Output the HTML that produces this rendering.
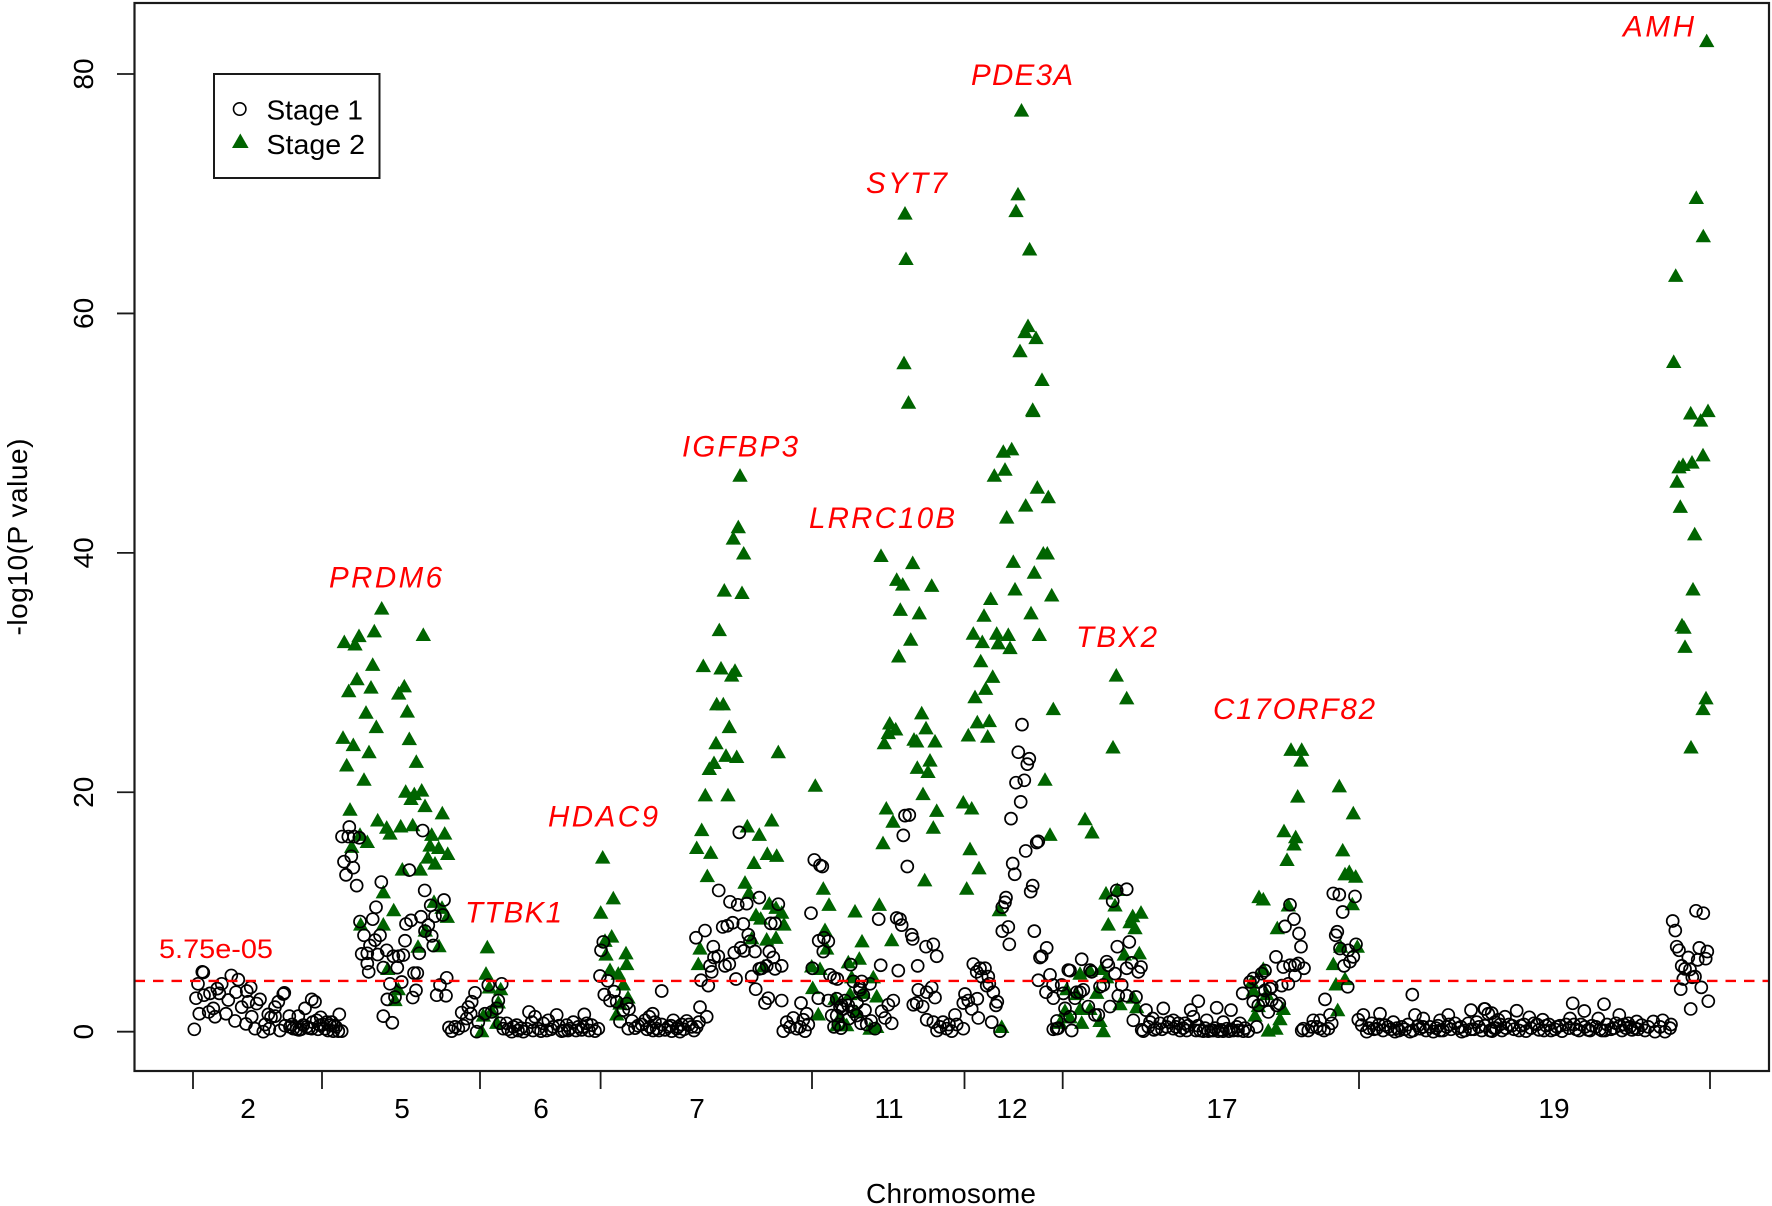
<!DOCTYPE html>
<html lang="en">
<head>
<meta charset="utf-8">
<title>Manhattan plot</title>
<style>
html,body{margin:0;padding:0;background:#fff;width:1772px;height:1206px;overflow:hidden}
svg{display:block;font-family:"Liberation Sans",Arial,sans-serif}
.gene{fill:#ff0000;font-style:italic;font-size:29.5px}
.tick{fill:#000;font-size:28px}
</style>
</head>
<body>
<svg id="chart" xmlns="http://www.w3.org/2000/svg" width="1772" height="1206" viewBox="0 0 1772 1206">
  <rect x="0" y="0" width="1772" height="1206" fill="#fff"/>
  <g id="stage2"></g>
  <g id="stage1"></g>
  <line id="thr" stroke="#ff0000" stroke-width="2.4" stroke-dasharray="10.5 8"/>
  <rect x="134.5" y="3" width="1634.5" height="1068" fill="none" stroke="#1a1a1a" stroke-width="2.2"/>
  <g id="axes"></g>
  <text x="159" y="958" font-size="27" fill="#ff0000" textLength="114" lengthAdjust="spacingAndGlyphs">5.75e-05</text>
  <text class="gene" x="329" y="587.5" textLength="113">PRDM6</text>
  <text class="gene" x="465" y="922.5" textLength="97">TTBK1</text>
  <text class="gene" x="548" y="826.5" textLength="110">HDAC9</text>
  <text class="gene" x="682" y="456.5" textLength="116">IGFBP3</text>
  <text class="gene" x="809" y="528" textLength="146">LRRC10B</text>
  <text class="gene" x="1076" y="647" textLength="81">TBX2</text>
  <text class="gene" x="1213" y="719" textLength="162">C17ORF82</text>
  <text class="gene" x="866" y="193" textLength="81">SYT7</text>
  <text class="gene" x="971" y="85" textLength="102">PDE3A</text>
  <text class="gene" x="1623" y="36.5" textLength="71">AMH</text>
  <text class="tick" x="951" y="1203" text-anchor="middle" textLength="170">Chromosome</text>
  <text class="tick" transform="translate(27,537) rotate(-90)" text-anchor="middle" textLength="197">-log10(P value)</text>
  <g>
    <rect x="214" y="74" width="165.5" height="104" fill="#fff" stroke="#1a1a1a" stroke-width="2"/>
    <circle cx="239.7" cy="109" r="6.2" fill="none" stroke="#000" stroke-width="1.6"/>
    <polygon points="240.3,133.5 248.6,148 232,148" fill="#006400"/>
    <text class="tick" x="266.5" y="119.5" textLength="96.5" lengthAdjust="spacingAndGlyphs">Stage 1</text>
    <text class="tick" x="266.5" y="154" textLength="98.5" lengthAdjust="spacingAndGlyphs">Stage 2</text>
  </g>
</svg>
<script>
// Tick labels and axis values
const yTicks = [0, 20, 40, 60, 80];
const chromBoundaries = [0, 129, 287, 407.6, 619, 771.5, 869.7, 1166, 1517];
const chromLabels = ["2", "5", "6", "7", "11", "12", "17", "19"];
const chromLabelPos = [55, 209, 348, 504, 696, 819, 1029, 1361];
const thresholdLogP = 4.24;

// Stage 1: [cumulative position, -log10 P]
const stage1Chr2 = [[1.3,.2],[9.3,5],[10.3,4.95],[5,4],[3,2.8],[6.3,1.5],[11,3.05],[17,3.2],[15.7,1.65],[22,1.25],[20.3,1.95],[24.3,3.6],[28.7,4],[26.3,3.2],[35.3,2.65],[38.3,4.7],[45.3,4.35],[43,3.3],[33,1.5],[42,.9],[48.7,2.05],[57.7,3.7],[53.7,3.4],[67,2.7],[63.7,2.35],[53,.65],[62,.25],[70.3,0],[76.3,.25],[58.7,1.25],[55.3,2.5],[75.3,1.45],[82,1.3],[85.3,2.5],[82,2.05],[91.3,3.25],[90.3,3.15],[87,.1],[96.3,1.3],[100.3,.25],[105.3,1.3],[110.3,.55],[112,1.95],[118.7,2.7],[122,2.5],[119.7,.8],[127.7,1.2],[135,.1],[146.3,1.45],[97,.4],[103.7,.2],[113.7,.4],[118.7,.25],[127,.55],[132,.25],[137,.55],[140.3,.05],[145.3,.05],[148.7,.05],[138.7,.8],[133.7,.8],[123.7,.95],[78,1.2],[72,.6],[92,.5],[108,.2],[143,.4],[99,.6],[106,.15],[116,.3],[125,.2],[130,.6],[141,.5]];
const stage1Chr5 = [[156.3,17.1],[149,16.3],[155.3,16.3],[161,16.3],[166.3,16.2],[158.3,14.65],[151,14.2],[160.3,13.7],[153,13.1],[163.7,12.2],[229.7,16.8],[216.3,13.5],[188.3,12.5],[231.7,11.8],[251,11],[183,10.4],[237.7,10.55],[242,9.65],[249.7,9.75],[228,9.6],[179.7,9.4],[167,9.2],[218,9.3],[213,9],[235.3,8.9],[232,8.4],[171,8.05],[187,8.05],[182,7.65],[238.7,8],[212,7.6],[177,7.2],[240.3,7.2],[193.7,6.8],[168.7,6.5],[174.3,6.55],[184.7,6.45],[200.3,6.3],[205.7,6.3],[210.3,6.4],[226.3,6.55],[174.3,5.7],[190.3,5.35],[204.3,5.35],[175.7,5],[221,4.9],[224.3,4.9],[253.7,4.5],[197,4],[208.7,4.15],[247,3.9],[223,3.45],[243.7,3.05],[253,3],[194.3,2.7],[202,2.9],[219.7,2.85],[190.3,1.3],[199.3,.75]];
const stage1Chr6 = [[256,.35],[258.7,.05],[262,.4],[265.3,.25],[268.7,1.6],[270.3,.5],[273.7,1.1],[277.7,1.5],[275.3,2.05],[278.7,2.5],[282,3.25],[283.7,0],[285.3,.8],[295.3,3.9],[308.7,4],[292,1.5],[298.7,1.65],[303.7,1.95],[305.3,2.6],[307,.7],[313.7,.7],[318.7,0],[323.7,.55],[330.3,0],[336,1.65],[338.7,.8],[342,1.25],[345.3,.25],[350.3,.7],[355.3,.95],[363.7,1.4],[360.3,.4],[368.7,.05],[373.7,.55],[380.3,.8],[385.3,.4],[391.3,1.45],[393.7,.7],[398.7,.55],[405.3,.25],[402,.05],[310.3,.25],[320.3,.4],[333.7,.25],[353.7,.1],[377,.25],[388.7,.15],[328,.3],[348,.05],[366,.5],[371,.1],[383,.1],[396,.1],[315,.2],[325,.1],[340,.1],[358,.2],[375,.1],[390,.4]];
const stage1Chr7 = [[410.3,7.5],[408,6.8],[407,4.65],[414.7,4.25],[411.3,3.1],[421,3.35],[417,2.6],[423.7,2.5],[430.3,1.8],[427,.85],[435.3,.25],[433.7,2.35],[436,1.9],[439,.9],[442,.3],[445,.5],[546.3,16.65],[525.7,11.8],[566.3,11.2],[537,10.85],[544.7,10.6],[553.7,10.7],[585.3,10.65],[512,8.45],[503,7.85],[529.7,8.75],[534.3,8.85],[539.7,9.1],[550.3,9],[577.7,9.05],[582,9.05],[555.3,8.1],[557,7.55],[520.3,7.1],[525.3,6.3],[521,6.2],[547.7,7],[541.3,6.6],[551,6.75],[562,6.7],[576.3,6.7],[580.3,6.2],[536.3,5.65],[532,5.5],[517,5.5],[518.7,5],[568.7,5.3],[573.7,5.5],[566.3,5.25],[582,5.25],[588.7,5.5],[508,4.3],[515.3,3.85],[543,4.4],[558.7,4.6],[562.7,3.55],[575.3,2.8],[572,2.4],[588.7,2.6],[507,2.05],[513.7,1.25],[468.7,3.4],[459.7,1.5],[456.3,1.25],[452,.95],[448.7,.6],[457,.4],[463.7,.25],[468.7,.6],[475.3,.4],[480.3,.95],[483.7,.25],[488.7,.6],[493.7,.9],[498.7,.4],[503.7,.4],[487,0],[478.7,.05],[462,.8],[590.3,.05],[593.7,.8],[600.3,1.15],[603.7,.25],[610.3,1],[612,.05],[615.3,.6],[613.7,1.5],[597,.4],[607,.4],[608,2.4],[454,.2],[460,.1],[466,.1],[472,.15],[478,.5],[485,.4],[491,.2],[496,.6],[501,.1],[506,.8]];
const stage1Chr11 = [[621.3,14.35],[627,13.9],[629.3,13.8],[618,9.9],[625.7,7.6],[631,7.85],[635.3,7.55],[630.3,6.7],[619.3,5.3],[637,4.75],[641,4.5],[644.3,4.4],[657.7,5.6],[687.7,5.55],[705.3,5.1],[724.7,5.5],[685.7,9.4],[703.7,9.5],[707,9.4],[708.7,8.9],[718.7,8.1],[719.7,7.75],[733,7.1],[740.3,7.3],[743.7,6.3],[712,18.05],[716.3,18.1],[710.3,16.4],[714.3,13.8],[667,3.7],[668.7,4.2],[625.3,2.8],[635.3,2.6],[643.7,1.35],[647,2.05],[652,2.6],[655.3,2.2],[660.3,1.7],[645.3,.6],[667,3.5],[670.3,3.05],[660.3,4.2],[677,4],[673.7,.6],[682,.25],[688.7,1.7],[695.3,2.25],[700.3,2.6],[692,1.15],[698.7,.7],[648.7,2.2],[663.7,1.35],[638.7,1.35],[643.7,2.75],[725.3,3.5],[723.7,2.4],[733.7,3.3],[738.7,3.7],[742,2.85],[720.3,2.25],[729.7,2.1],[733.7,1],[740.3,.8],[747,.4],[753.7,.25],[758.7,.05],[763.7,.6],[770.3,.25],[762,1.4],[650,1.9],[656,1.1],[664,2.4],[672,1.8],[678,.9],[641,.4],[648,.3],[668,.7],[750,.8],[756,.6],[744,.1]];
const stage1Chr12 = [[772,3.15],[770.3,2.4],[775.3,2.6],[778.7,1.9],[784.3,2.75],[785.3,1.15],[798.7,.8],[807,.05],[803,2.2],[804.3,2.5],[800.3,3.3],[796.3,4],[792,5.3],[787,5.3],[780.3,5.65],[783.7,5],[788.7,4.6],[795.3,4.6],[793.7,3.85],[829,25.65],[825.3,23.35],[836.3,22.8],[834.3,22.35],[823,20.8],[831.3,21],[827.7,19.2],[818,17.8],[843.7,15.8],[845.3,15.9],[832.7,15.1],[819.7,14.05],[821.7,13.15],[839.7,12.2],[837.7,11.7],[813,11.2],[812,10.8],[809.3,10.4],[815.3,8.75],[809.3,8.4],[841.3,8.4],[816.3,7.3],[853.7,7],[848.7,6.3],[847,6.2],[857,4.75],[845.3,4.3],[853,3.3],[860.3,2.8],[863.7,.25],[860,3.9],[864,.9],[860.3,.2]];
const stage1Chr17 = [[877,5.1],[888.7,6.05],[898.7,5],[875.3,5.15],[868.7,3.9],[872,1.95],[865.3,.3],[878.7,.1],[877,1.25],[882,2.8],[887,3.3],[897,5.15],[895.3,2.1],[902,1.4],[905.3,1.4],[910.3,3.9],[913.7,5.85],[915.3,5.55],[922,4.85],[924.3,7.1],[936.3,7.5],[938.7,5.75],[933.7,5.3],[948,5.4],[945.3,5],[923.7,11.8],[933.7,11.9],[919.7,10.9],[928.7,3.9],[925.3,3],[933.7,3],[917,2.1],[943,2.9],[940.3,.95],[953,1.8],[948.7,.15],[883.7,3.3],[890.3,3.5],[870.3,3.2],[907,3.75],[970.3,1.95],[959.7,1.1],[963.7,.25],[973.7,.4],[980.3,.95],[987,.1],[992,.7],[997.7,1.8],[1005.3,2.55],[1000.3,1.25],[1007,.1],[1013.7,.95],[1023.7,2],[1020.3,.1],[1030.3,.8],[1038,1.8],[1040.3,.1],[1047,.7],[1055.3,.05],[1010.3,.05],[1015.3,.05],[1025.3,.05],[1033.7,.25],[950.3,.05],[955.3,.4],[980.3,.25],[967,.7],[993.7,.1],[985.3,.7],[1043.7,.4],[1050.3,.05],[1018,.1],[1028,.15],[1036,.05],[957,.8],[961,.15],[969,.2],[976,.8],[983,.4],[990,.3],[995,.5],[1003,.1],[1005,.5],[1012,.3],[1022,.3],[1030,.05],[1038,.2],[1045,.1],[1052,.3],[1072,5.1],[1068.7,4.85],[1060.3,4.45],[1057,4.15],[1049.7,3.2],[1065.3,4.15],[1078.7,3.75],[1083,6.25],[1092,8.8],[1101,9.4],[1097,10.6],[1106,8.2],[1108,7.1],[1090.3,5.4],[1097,5.55],[1102,5.55],[1105.3,5.7],[1111,5.3],[1102,4.7],[1095.3,4],[1088.7,3.85],[1072,3.45],[1077,3.6],[1060.3,2.5],[1070.3,2.65],[1078.7,2.65],[1086.3,2.35],[1065.3,2.2],[1075.3,1.65],[1083.7,2.2],[1063.7,.4],[1132,2.7],[1154.7,3.75],[1140.3,11.55],[1146.3,11.45],[1162,11.3],[1149.7,10],[1144.3,8.35],[1142.7,8.05],[1163,7.3],[1147,6.95],[1155.3,6.8],[1160.3,6.25],[1157,5.85],[1151,5.5],[1137,1.4],[1127,.95],[1120.3,.95],[1110.3,.25],[1115.3,.1],[1123.7,.4],[1131,.1],[1138.7,.7],[1108.7,.1],[1118.7,.4],[1135.3,.25],[1127,.25]];
const stage1Chr19 = [[1219.3,3.1],[1165.3,1],[1170.3,1.4],[1168.7,.55],[1173.7,0],[1178.7,.7],[1187,1.5],[1183.7,.25],[1192,.55],[1200.3,.8],[1202,0],[1208.7,.4],[1217,0],[1222,1.4],[1230.3,1.1],[1227,.25],[1240.3,0],[1247,.95],[1255.3,1.4],[1253.7,.4],[1262,.7],[1268.7,0],[1278,1.8],[1275.3,.7],[1283.7,.8],[1291.3,1.9],[1295.3,1.5],[1288.7,.1],[1302,.8],[1176,.3],[1181,.2],[1190,.1],[1195,.4],[1198,.2],[1206,.1],[1212,.2],[1220,.1],[1225,.5],[1233,.1],[1237,.4],[1243,.3],[1250,.1],[1258,.2],[1265,.3],[1272,.1],[1281,.2],[1286,.4],[1299,.05],[1411,2.3],[1379.7,2.37],[1391.3,1.73],[1426.3,1.4],[1323.7,1.75],[1292,1.9],[1298.7,1.55],[1336.3,1.2],[1349.7,1],[1377,1.1],[1405.3,1.1],[1435.3,.7],[1443.7,.85],[1312,1.25],[1305.3,1],[1303,.3],[1309,.1],[1316,.6],[1321,.2],[1328,.5],[1333,.05],[1341,.7],[1346,.15],[1353,.5],[1358,.1],[1364,.4],[1369,.05],[1373,.6],[1383,.2],[1388,.6],[1395,.15],[1399,.5],[1409,.1],[1414,.6],[1418,.2],[1423,.7],[1429,.1],[1433,.3],[1439,.15],[1445,.2],[1503,10.1],[1510.3,9.9],[1479.7,9.25],[1482.3,8.45],[1483.7,7.1],[1486,6.8],[1506.3,7],[1514.3,6.7],[1512.7,6.1],[1504.7,6],[1495.3,6.2],[1488.7,5.5],[1492,5.25],[1497,5.2],[1502,4.6],[1499.3,4.55],[1490.3,4.4],[1487.7,3.55],[1508.3,3.7],[1515.3,2.55],[1497.7,1.9],[1478,.6],[1469.7,.95],[1460.3,.85],[1452,.1],[1462,0],[1472,0],[1477,.3],[1448.7,.55],[1467,.4],[1455.3,.4],[1186,.6],[1204,.3],[1215,.6],[1230,.4],[1245,.5],[1247,.1],[1256,.6],[1268,.4],[1278,.2],[1292,.5],[1297,.1],[1301,.3],[1307,.6],[1313,.3],[1319,.5],[1326,.1],[1331,.6],[1338,.3],[1344,.6],[1351,.1],[1356,.6],[1362,.2],[1367,.5],[1376,.3],[1381,.6],[1386,.1],[1392,.4],[1397,.1],[1403,.4],[1407,.2],[1412,.1],[1421,.3],[1427,.5],[1431,.6],[1437,.4],[1442,.3]];

// Stage 2: [cumulative position, -log10 P]
const stage2Chr5 = [[188.7,35.4],[151.3,32.6],[162,32.4],[166,33.1],[181.3,33.5],[230.3,33.2],[179.7,30.7],[164,29.5],[155.7,28.5],[178,28.8],[211.3,28.9],[205.7,28.3],[173,26.7],[214.3,26.8],[183.3,25.5],[150,24.6],[160.3,24],[216.3,24.5],[176,23.4],[153.7,22.3],[223.3,22.6],[171,21.1],[212.7,20.1],[228.7,20.2],[221.3,19.9],[218,19.5],[232,18.9],[157,18.6],[249.3,18.3],[184.7,17.7],[193.7,17.1],[197,16.6],[207.7,17.2],[219.7,17.3],[238.7,16.5],[251.7,16.6],[167,16.5],[174.3,15.9],[158.7,15.5],[237,15.6],[245.7,15.4],[254.7,14.9],[234.7,14.6],[242,14.1],[209.3,13.6],[227.3,13.6],[190.3,11.7],[241,10.9],[200.7,10.2],[249,10.4],[254.3,9.65],[190.3,9],[167.7,9],[232.3,8.5],[225,7.15],[246,7.2],[194.7,5.3],[205.3,3.6],[202,2.7]];
const stage2Chr6 = [[294.3,7.1],[293,4.9],[296.3,3.75],[307.7,3.6],[305.3,2.5],[298.7,1.8],[290.3,1.4],[303.7,.8],[288.7,.1]];
const stage2Chr7 = [[409.7,14.6],[420.3,11.2],[407.7,10],[418.7,8],[412,7.65],[413,6.5],[433,6.6],[417,5.2],[433.7,5.7],[425.3,4.9],[430.3,4],[427,2.4],[423.7,1.5],[435,2.9],[547,46.5],[545.3,42.2],[540.3,41.25],[550.7,40],[531.3,36.9],[549,36.7],[526.3,33.6],[510.3,30.6],[528,30.4],[542,30.2],[538.7,29.8],[523.7,27.4],[530.3,27.4],[536.3,25.5],[523,24.15],[533,23.1],[543.7,23],[521,22.5],[516.3,22],[585.3,23.4],[512.3,19.8],[535,19.8],[508.7,16.9],[554.3,17.2],[566.3,16.5],[578.7,17.7],[503.7,15.4],[517.7,15],[574.3,14.9],[583.7,14.75],[561,14.15],[514.3,13.05],[552,12.5],[556,11.65],[576.3,10.75],[563,9.8],[567.7,9.5],[588.7,10],[583,10.4],[591,9],[558.7,7.85],[573.7,7.75],[583,7.9],[507,7],[505.3,5.7],[570.3,5.5]];
const stage2Chr11 = [[622.3,20.6],[630.3,12],[636,10.65],[632,8.55],[662,10.1],[686.3,10.65],[698.7,7.7],[669,7.6],[633.7,7],[655.3,5.85],[666.3,6.15],[618.7,5.5],[627,5.3],[658.7,4.6],[680.3,4.6],[619.7,3.7],[642,2.8],[657,3.2],[670.3,3.3],[683.7,3],[625.3,1.5],[647,1.3],[663.7,1.7],[653.7,.6],[677,.3],[683.7,.45],[643.7,.6],[688,39.8],[719.7,39.2],[703.7,37.8],[709.7,37.4],[738.7,37.3],[707.3,35.3],[726.3,35],[717.7,32.8],[705.7,31.4],[728.7,26.65],[696.7,25.8],[702.7,25.3],[733,25.4],[695.3,25],[691.3,24.15],[721,24.45],[723.7,24.3],[742,24.3],[737,22.7],[724.3,22.1],[735,21.75],[730,19.9],[693.3,18.7],[743.7,18.5],[700,17.6],[740.3,17.1],[690,15.8],[731.7,12.7],[712,68.4],[713,64.6],[711,55.9],[715.5,52.6]];
const stage2Chr12 = [[839.7,52],[818.7,48.7],[810.3,48.5],[812,47],[801.3,46.5],[844.3,45.5],[855.3,44.7],[832.7,44],[813.7,43],[820.3,39.3],[850.3,40],[854.3,40],[841.3,38.4],[822,37],[858.7,36.5],[797.7,36.2],[791,34.8],[838,35],[780.3,33.3],[803.7,33.3],[815.3,33.2],[789.3,32.6],[805.3,32.5],[846.3,33.2],[817,32.1],[787.7,31],[799.7,29.7],[792.7,28.7],[782,28],[860.3,27],[784.3,25.9],[796.3,26],[775.3,24.8],[794.7,24.7],[852,21.1],[770.3,19.2],[778.7,18.7],[777,15.3],[857,16.5],[786,13.7],[773.7,12],[806.3,10.2],[808.7,.45],[828.5,77],[825,70],[823,68.6],[836.6,65.4],[835,59],[832,58.5],[843,58],[827,56.9],[849,54.5],[840,51.9]];
const stage2Chr17 = [[923.3,29.8],[933.7,27.9],[920,23.8],[892,17.8],[899,16.7],[913,11.6],[924.3,11.9],[922,10.6],[939.7,9.7],[948,10],[937,9.2],[942,8.7],[915.3,9],[931.3,6.5],[946.3,6.6],[887,4.9],[897,5.15],[908.7,5.3],[913.7,4.6],[873.7,3.6],[883.7,3.2],[903.7,3.3],[940.3,2.9],[927,2.35],[887,1.95],[872,1.8],[943.7,2.1],[897,1.95],[907,.95],[877,1.25],[888.7,.8],[867,.8],[910.3,.1],[1098,23.6],[1108.7,23.6],[1108,22.7],[1104.7,19.7],[1146.3,20.55],[1160.3,18.3],[1091,16.8],[1102.7,16.3],[1101,15.7],[1094,14.4],[1149.7,15.2],[1152,13.2],[1156.3,13.4],[1162.7,13],[1066,11.3],[1070.3,11.1],[1095.3,10.6],[1159.3,10.7],[1084.3,8.7],[1164.3,7.15],[1147.7,7.15],[1140.3,5.7],[1152,4.45],[1143,4],[1144.7,1.85],[1058.7,4.2],[1070.3,5.3],[1060.3,3.5],[1073.7,3.2],[1065.3,2.2],[1090.3,1.95],[1062,1.4],[1087,1.1],[1075.3,.15],[1083,.3]];
const stage2Chr19 = [[1513.7,82.8],[1503.3,69.7],[1510.3,66.5],[1482.7,63.2],[1480.7,56],[1497.7,51.7],[1507.7,51.1],[1515,51.9],[1510,48.2],[1499,47.6],[1490,47.4],[1486,47.2],[1484,46],[1487.3,43.9],[1501.7,41.6],[1500,37],[1489,34],[1491,33.8],[1492,32.2],[1513,27.9],[1510,27],[1498,23.8]];

const stage1Groups = [stage1Chr2, stage1Chr5, stage1Chr6, stage1Chr7, stage1Chr11, stage1Chr12, stage1Chr17, stage1Chr19];
const stage2Groups = [stage2Chr5, stage2Chr6, stage2Chr7, stage2Chr11, stage2Chr12, stage2Chr17, stage2Chr19];

// Axis functions
function xScale(pos){ return 193 + pos * (1710 - 193) / 1517; }
function yScale(v){ return 1031.7 - v * (1031.7 - 74) / 80; }

const NS = 'http://www.w3.org/2000/svg';
const stage1Layer = document.getElementById('stage1');
const stage2Layer = document.getElementById('stage2');
const axesLayer = document.getElementById('axes');

stage2Groups.forEach(function(group){
  group.forEach(function(d){
    const cx = xScale(d[0]);
    const cy = yScale(d[1]);
    const el = document.createElementNS(NS, 'polygon');
    
    
    el.setAttribute('points', cx + ',' + (cy - 6.9) + ' ' + (cx + 7.7) + ',' + (cy + 6.7) + ' ' + (cx - 7.7) + ',' + (cy + 6.7));
    el.setAttribute('fill', '#006400');
    stage2Layer.appendChild(el);
  });
});

stage1Groups.forEach(function(group){
  group.forEach(function(d){
    const el = document.createElementNS(NS, 'circle');
    
    
    el.setAttribute('cx', xScale(d[0]));
    el.setAttribute('cy', yScale(d[1]));
    el.setAttribute('r', 6);
    el.setAttribute('fill', 'none');
    el.setAttribute('stroke', '#000');
    el.setAttribute('stroke-width', 1.7);
    stage1Layer.appendChild(el);
  });
});

const thr = document.getElementById('thr');
thr.setAttribute('x1', 134.5);
thr.setAttribute('x2', 1769);
thr.setAttribute('y1', yScale(thresholdLogP));
thr.setAttribute('y2', yScale(thresholdLogP));

yTicks.forEach(function(v){
  const y = yScale(v);
  const line = document.createElementNS(NS, 'line');
  
  
  line.setAttribute('x1', 117);
  line.setAttribute('x2', 134.5);
  line.setAttribute('y1', y);
  line.setAttribute('y2', y);
  line.setAttribute('stroke', '#1a1a1a');
  line.setAttribute('stroke-width', 1.8);
  axesLayer.appendChild(line);
  const label = document.createElementNS(NS, 'text');
  
  
  label.setAttribute('class', 'tick');
  label.setAttribute('text-anchor', 'middle');
  label.setAttribute('transform', 'translate(93,' + y + ') rotate(-90)');
  label.textContent = String(v);
  axesLayer.appendChild(label);
});

chromBoundaries.forEach(function(p){
  const x = xScale(p);
  const line = document.createElementNS(NS, 'line');
  
  
  line.setAttribute('x1', x);
  line.setAttribute('x2', x);
  line.setAttribute('y1', 1071);
  line.setAttribute('y2', 1089);
  line.setAttribute('stroke', '#1a1a1a');
  line.setAttribute('stroke-width', 1.8);
  axesLayer.appendChild(line);
});

chromLabels.forEach(function(name, i){
  const label = document.createElementNS(NS, 'text');
  
  
  label.setAttribute('class', 'tick');
  label.setAttribute('text-anchor', 'middle');
  label.setAttribute('x', xScale(chromLabelPos[i]));
  label.setAttribute('y', 1118);
  label.textContent = name;
  axesLayer.appendChild(label);
});
</script>
</body>
</html>
